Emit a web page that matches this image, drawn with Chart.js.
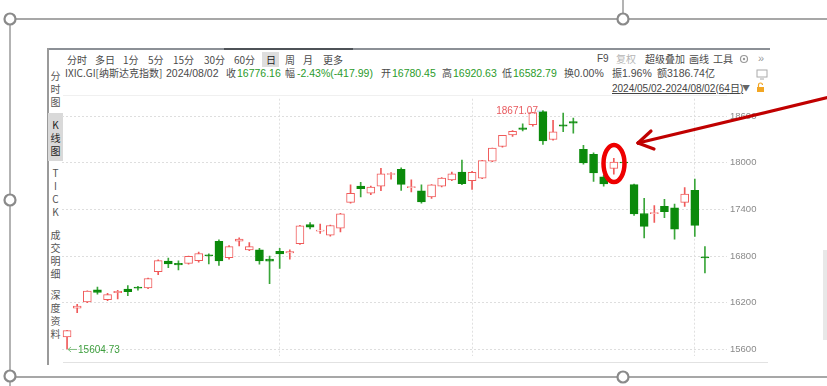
<!DOCTYPE html>
<html><head><meta charset="utf-8">
<script src="https://cdn.jsdelivr.net/npm/chart.js@4/dist/chart.umd.min.js"></script>
<style>
html,body{margin:0;padding:0;background:#fff;width:827px;height:386px;overflow:hidden;}
body{position:relative;font-family:"Noto Sans CJK SC","Liberation Sans",sans-serif;}
.t{position:absolute;white-space:nowrap;font-size:10px;line-height:12px;color:#4a4a4a;}
.g{color:#2b9b2b;font-family:"Liberation Sans",Arial,sans-serif;font-size:10.5px;}
.n{font-family:"Liberation Sans",Arial,sans-serif;font-size:10.5px;}
.lp{position:absolute;left:49px;width:13px;text-align:center;font-size:10px;line-height:13px;color:#555;}
#wrap{position:absolute;left:50px;top:90px;width:720px;height:275px;}
svg{position:absolute;left:0;top:0;}
</style></head><body>

<!-- inner screenshot frame -->
<div style="position:absolute;left:47px;top:48px;width:723px;height:2px;background:#8c9096"></div>
<div style="position:absolute;left:224px;top:48px;width:129px;height:2px;background:#4e5257"></div>
<div style="position:absolute;left:47px;top:48px;width:1.5px;height:317px;background:#9a9a9a"></div>
<div style="position:absolute;left:63px;top:95px;width:664px;height:1px;background:#f0f0f0"></div>
<div style="position:absolute;left:63px;top:362px;width:705px;height:1px;background:#e2e2e2"></div>
<div style="position:absolute;left:823px;top:250px;width:4px;height:90px;background:#e8e8e8"></div>

<!-- toolbar -->
<div class="t" style="left:67px;top:54px">分时</div>
<div class="t" style="left:95px;top:54px">多日</div>
<div class="t" style="left:123px;top:54px">1分</div>
<div class="t" style="left:148px;top:54px">5分</div>
<div class="t" style="left:173px;top:54px">15分</div>
<div class="t" style="left:204px;top:54px">30分</div>
<div class="t" style="left:234px;top:54px">60分</div>
<div style="position:absolute;left:262px;top:52px;width:17px;height:15px;background:#dedede"></div>
<div class="t" style="left:266px;top:54px;color:#222">日</div>
<div class="t" style="left:285px;top:54px">周</div>
<div class="t" style="left:303px;top:54px">月</div>
<div class="t" style="left:323px;top:54px">更多</div>

<div class="t n" style="left:597px;top:53px;font-size:10px">F9</div>
<div class="t" style="left:616px;top:53px;color:#b5b5b5">复权</div>
<div class="t" style="left:645px;top:53px">超级叠加</div>
<div class="t" style="left:689px;top:53px">画线</div>
<div class="t" style="left:713px;top:53px">工具</div>
<div class="t n" style="left:758px;top:52px;color:#999;font-size:11px">»</div>

<!-- info row -->
<div class="t" style="left:65px;top:67px">IXIC.GI[纳斯达克指数]</div>
<div class="t n" style="left:166px;top:67px">2024/08/02</div>
<div class="t" style="left:226px;top:67px">收</div>
<div class="t g" style="left:237px;top:67px">16776.16</div>
<div class="t" style="left:285px;top:67px">幅</div>
<div class="t g" style="left:297px;top:67px">-2.43%(-417.99)</div>
<div class="t" style="left:381px;top:67px">开</div>
<div class="t g" style="left:392px;top:67px">16780.45</div>
<div class="t" style="left:442px;top:67px">高</div>
<div class="t g" style="left:453px;top:67px">16920.63</div>
<div class="t" style="left:502px;top:67px">低</div>
<div class="t g" style="left:513px;top:67px">16582.79</div>
<div class="t" style="left:564px;top:67px">换<span class="n">0.00%</span></div>
<div class="t" style="left:612px;top:67px">振<span class="n">1.96%</span></div>
<div class="t" style="left:657px;top:67px">额<span class="n">3186.74</span>亿</div>

<!-- date range -->
<div class="t n" style="left:612px;top:82px;font-size:10px;text-decoration:underline;color:#444">2024/05/02-2024/08/02(64<span style="font-family:'Noto Sans CJK SC'">日</span>)</div>
<div class="t" style="left:742px;top:82px;font-size:8px;color:#666">▼</div>

<!-- left panel -->
<div class="lp" style="top:69px">分<br>时<br>图</div>
<div style="position:absolute;left:48px;top:113px;width:15px;height:48px;background:#d9d9d9"></div>
<div class="lp" style="top:118px;color:#222">K<br>线<br>图</div>
<div class="lp" style="top:166px">T<br>I<br>C<br>K</div>
<div class="lp" style="top:228px">成<br>交<br>明<br>细</div>
<div class="lp" style="top:288px">深<br>度<br>资<br>料</div>

<div id="wrap"><canvas id="c" width="720" height="275"></canvas></div>

<svg width="827" height="386" viewBox="0 0 827 386">
  <!-- icons -->
  <circle cx="744" cy="59" r="3.5" fill="none" stroke="#999" stroke-width="1.2"/>
  <circle cx="744" cy="59" r="1.2" fill="#999"/>
  <rect x="757" y="70" width="10" height="7" fill="none" stroke="#aaa" stroke-width="1"/>
  <line x1="760" y1="79" x2="764" y2="79" stroke="#aaa" stroke-width="1"/>
  <rect x="757" y="87" width="7" height="5" fill="#f2a623"/>
  <path d="M758.5 87 v-2 a2 2 0 0 1 4 0" fill="none" stroke="#f2a623" stroke-width="1.2"/>
  <!-- document selection frame -->
  <g stroke="#8a8a8a" stroke-width="1.3" fill="none">
    <line x1="16" y1="19" x2="827" y2="19"/>
    <line x1="623" y1="0" x2="623" y2="13"/>
    <line x1="10" y1="25" x2="10" y2="194"/>
    <line x1="10" y1="206" x2="10" y2="370"/>
    <line x1="10" y1="382" x2="10" y2="386"/>
    <line x1="16" y1="377" x2="827" y2="377"/>
  </g>
  <g stroke="#8a8a8a" stroke-width="2.2" fill="#fff">
    <circle cx="10" cy="19" r="5.5"/>
    <circle cx="623" cy="19" r="5.5"/>
    <circle cx="10" cy="200" r="5.5"/>
    <circle cx="10" cy="376" r="5.5"/>
    <circle cx="623" cy="377" r="5.5"/>
  </g>
  <!-- annotation -->
  <ellipse cx="614" cy="163.5" rx="10.5" ry="18.5" fill="none" stroke="#ee0000" stroke-width="4.5"/>
  <g stroke="#c00000" stroke-width="3.2" stroke-linecap="round" fill="none">
    <line x1="830" y1="97" x2="638" y2="143"/>
    <line x1="638" y1="143" x2="651" y2="131"/>
    <line x1="638" y1="143" x2="654" y2="149"/>
  </g>
</svg>

<script>
// ===== data =====
const dates = ["05/02","05/03","05/06","05/07","05/08","05/09","05/10","05/13","05/14","05/15","05/16","05/17","05/20","05/21","05/22","05/23","05/24","05/28","05/29","05/30","05/31",
"06/03","06/04","06/05","06/06","06/07","06/10","06/11","06/12","06/13","06/14","06/17","06/18","06/20","06/21","06/24","06/25","06/26","06/27","06/28",
"07/01","07/02","07/03","07/05","07/08","07/09","07/10","07/11","07/12","07/15","07/16","07/17","07/18","07/19","07/22","07/23","07/24","07/25","07/26","07/29","07/30","07/31",
"08/01","08/02"];
const opens  = [15760,16130,16210,16365,16240,16330,16375,16400,16390,16600,16735,16705,16705,16740,16815,16990,16780,16990,16880,16880,16760,
16860,16840,16960,17205,17120,17070,17160,17490,17700,17610,17700,17850,17915,17680,17640,17560,17700,17780,17880,
17770,17803,18020,18210,18360,18450,18492,18658,18300,18490,18530,18175,18110,17820,17927,18010,17720,17348,17345,17440,17420,17490,
17645,16780.45];
const highs  = [15845,16180,16352,16400,16320,16360,16420,16410,16515,16750,16775,16740,16800,16850,16830,17010,16935,17035,16975,16900,16800,
16900,16880,17195,17230,17210,17200,17350,17716,17748,17700,17930,17875,17935,17780,17716,17720,17810,17880,18035,
17890,18031,18190,18355,18416,18500,18650,18671.07,18546,18640,18575,18224,18130,17840,18058,18100,17725,17542,17450,17530,17470,17680,
17790,16920.63];
const lows   = [15604.73,16070,16200,16310,16225,16250,16290,16360,16380,16560,16650,16620,16695,16720,16700,16680,16760,16930,16868,16694,16446,
16641,16760,16950,17150,17090,17055,17110,17480,17560,17590,17640,17790,17645,17625,17480,17542,17690,17770,17720,
17658,17795,18015,18200,18340,18410,18472,18236,18290,18400,18380,17983,17760,17700,17853,17950,17323,17034,17232,17295,17017,17440,
17054,16582.79];
const closes = [15841,16156,16349,16333,16303,16346,16341,16388,16511,16742,16698,16686,16795,16833,16802,16736,16921,17020,16921,16737,16735,
16829,16857,17188,17173,17133,17193,17344,17608,17668,17689,17857,17862,17722,17689,17497,17718,17805,17859,17733,
17879,18029,18188,18353,18404,18429,18647,18283,18398,18473,18509,17997,17871,17727,18008,17997,17342,17182,17358,17370,17147,17599,
17194,16776.16];
const yTicks = [15600,16200,16800,17400,18000,18600];

// ===== styling =====
const UP = '#f05a5a', DOWN = '#0b8a0b', DOWN_WICK = '#3aa63a';
const isUp = closes.map((c,i)=>c>=opens[i]);
const monthStarts = dates.map((d,i)=> i>0 && d.slice(0,2)!==dates[i-1].slice(0,2) ? i : -1).filter(i=>i>=0);

const hiLo = {
  id:'hilo',
  afterDatasetsDraw(chart){
    const {ctx, scales:{x,y}} = chart;
    let hi=0, lo=0;
    highs.forEach((h,i)=>{ if(h>highs[hi]) hi=i; });
    lows.forEach((l,i)=>{ if(l<lows[lo]) lo=i; });
    ctx.save();
    ctx.font = '10px "Liberation Sans", Arial, sans-serif';
    ctx.textBaseline = 'middle';
    const hx = x.getPixelForValue(hi), hy = y.getPixelForValue(highs[hi]);
    ctx.strokeStyle = '#a9d3ee'; ctx.lineWidth = 1;
    ctx.beginPath(); ctx.moveTo(hx-1, hy+0.5); ctx.lineTo(hx-6, hy+0.5); ctx.stroke();
    ctx.fillStyle = '#e8595e'; ctx.textAlign = 'right';
    ctx.fillText(highs[hi].toFixed(2), hx-5, hy+1);
    const lx = x.getPixelForValue(lo), ly = y.getPixelForValue(lows[lo]);
    ctx.strokeStyle = '#7fbf7f';
    ctx.beginPath(); ctx.moveTo(lx+1, ly+0.5); ctx.lineTo(lx+10, ly+0.5);
    ctx.moveTo(lx+4, ly-2); ctx.lineTo(lx+1, ly+0.5); ctx.lineTo(lx+4, ly+3); ctx.stroke();
    ctx.fillStyle = '#3d9e3d'; ctx.textAlign = 'left';
    ctx.fillText(lows[lo].toFixed(2), lx+11, ly+1);
    ctx.restore();
  }
};

new Chart(document.getElementById('c'), {
  type:'bar',
  data:{
    labels: dates,
    datasets:[
      { label:'body', data: opens.map((o,i)=>[o, closes[i]]),
        backgroundColor: isUp.map(u=>u?'#ffffff':DOWN),
        borderColor: isUp.map(u=>u?UP:DOWN),
        borderWidth:1, borderSkipped:false, barThickness:8, minBarLength:1,
        grouped:false, order:0 },
      { label:'wick', data: lows.map((l,i)=>[l, highs[i]]),
        backgroundColor: isUp.map(u=>u?UP:DOWN_WICK),
        borderWidth:0, barThickness:1, grouped:false, order:1 }
    ]
  },
  options:{
    responsive:false, animation:false,
    layout:{padding:{left:12, top:5, bottom:3, right:0}},
    plugins:{legend:{display:false}, tooltip:{enabled:false}},
    scales:{
      x:{ offset:true,
          ticks:{display:false},
          grid:{offset:false, drawTicks:false, lineWidth:1,
                color: c => monthStarts.includes(c.index) ? '#e0e0e0' : 'rgba(0,0,0,0)'},
          border:{display:false, dash:[2,2]},
          afterFit: s => { s.height = 0; } },
      y:{ position:'right', min:15510, max:18825,
          afterBuildTicks: s => { s.ticks = yTicks.map(v=>({value:v})); },
          afterFit: s => { s.width = 60; },
          ticks:{color:'#8a8a8a', padding:3, callback: v => String(v),
                 font:{size:9.5, family:'"Liberation Sans", Arial, sans-serif'}},
          grid:{color:'#dedede', drawTicks:true, tickLength:17, tickColor:'#dedede', tickBorderDash:[2,2]},
          border:{display:false, dash:[2,2]} }
    }
  },
  plugins:[hiLo]
});
</script>
</body></html>
